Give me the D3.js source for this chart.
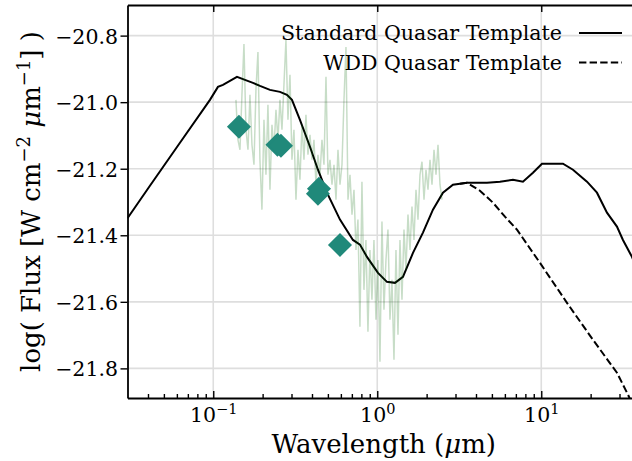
<!DOCTYPE html>
<html>
<head>
<meta charset="utf-8">
<script src="https://cdn.jsdelivr.net/npm/d3@7"></script>
<style>
  body { margin: 0; background: #fff; }
  text { font-family: "DejaVu Serif", serif; fill: #000; }
</style>
</head>
<body>
<svg id="chart"></svg>
<script>
// observed spectrum (wavelength in micron, log flux)
const specWave = [0.1375,0.1414,0.1455,0.1496,0.1539,0.1583,0.1628,0.1674,0.1722,0.1771,
  0.1821,0.1873,0.1926,0.1981,0.2038,0.2096,0.2155,0.2217,0.2280,0.2345,
  0.2412,0.2480,0.2551,0.2624,0.2698,0.2775,0.2854,0.2936,0.3019,0.3105,
  0.3194,0.3285,0.3378,0.3475,0.3574,0.3675,0.3780,0.3888,0.3999,0.4113,
  0.4230,0.4350,0.4474,0.4602,0.4733,0.4868,0.5006,0.5149,0.5296,0.5447,
  0.5602,0.5761,0.5925,0.6094,0.6268,0.6446,0.6630,0.6819,0.7013,0.7213,
  0.7418,0.7625,0.7842,0.8066,0.8296,0.8532,0.8775,0.9025,0.9282,0.9547,
  0.9819,1.0099,1.0387,1.0683,1.0987,1.1300,1.1622,1.1953,1.2294,1.2644,
  1.3005,1.3376,1.3757,1.4149,1.4552,1.4967,1.5394,1.5833,1.6284,1.6748,
  1.7225,1.7716,1.8221,1.8740,1.9274,1.9823,2.0388,2.0969,2.1567,2.2182,
  2.2814,2.3464,2.4133,2.4821];
const specFlux = [-20.993,-21.113,-21.143,-20.978,-20.825,-21.083,-21.143,-20.978,-21.128,-21.188,
  -20.963,-20.849,-21.173,-21.323,-21.053,-21.218,-21.008,-21.263,-21.068,-21.143,
  -21.023,-21.113,-20.993,-21.083,-20.948,-20.813,-21.053,-20.918,-21.173,-21.083,
  -21.293,-21.143,-21.233,-21.068,-21.173,-21.038,-21.158,-21.098,-21.173,-21.113,
  -21.248,-21.158,-21.218,-21.113,-21.188,-20.924,-21.218,-21.173,-21.248,-21.188,
  -21.293,-21.143,-21.248,-21.188,-20.993,-20.834,-21.293,-21.218,-21.338,-21.263,
  -21.444,-21.353,-21.675,-21.239,-21.564,-21.414,-21.690,-21.444,-21.594,-21.414,
  -21.654,-21.474,-21.780,-21.359,-21.624,-21.474,-21.383,-21.654,-21.534,-21.774,
  -21.444,-21.699,-21.414,-21.594,-21.383,-21.504,-21.338,-21.444,-21.314,-21.414,
  -21.263,-21.353,-21.218,-21.179,-21.293,-21.203,-21.263,-21.173,-21.248,-21.143,
  -21.218,-21.128,-21.248,-21.293];

// standard quasar template
const stdWave = [0.03, 0.04111, 0.06266, 0.09548, 0.1068, 0.1146, 0.1264, 0.1395, 0.1561, 0.1746,
  0.1927, 0.2217, 0.2551, 0.2814, 0.3019, 0.3378, 0.3888, 0.4349, 0.4935, 0.5925,
  0.7109, 0.7843, 0.8654, 1.0099, 1.1459, 1.2823, 1.4349, 1.651, 1.8995, 2.1857,
  2.5153, 2.8943, 3.1939, 3.5237, 4.6666, 5.601, 6.722, 7.733, 8.900, 10.10,
  13.56, 15.61, 19.00, 21.86, 25.16, 28.94, 31.49, 35.73, 39.99];
const stdFlux = [-21.349, -21.251, -21.122, -20.993, -20.954, -20.948, -20.936, -20.924, -20.933, -20.942,
  -20.951, -20.963, -20.969, -20.978, -20.993, -21.053, -21.134, -21.203, -21.272, -21.353,
  -21.414, -21.428, -21.465, -21.513, -21.540, -21.543, -21.525, -21.453, -21.392, -21.323,
  -21.272, -21.248, -21.245, -21.242, -21.242, -21.239, -21.233, -21.239, -21.212, -21.185,
  -21.185, -21.203, -21.239, -21.272, -21.332, -21.374, -21.414, -21.465, -21.519];

// WDD quasar template (where it departs from the standard one)
const wddWave = [3.1939, 3.5237, 4.228, 5.077, 6.006, 7.110, 9.820, 14.35, 20.66, 28.94, 33.79, 37.26];
const wddFlux = [-21.245, -21.242, -21.266, -21.302, -21.344, -21.383, -21.483, -21.603, -21.714, -21.813, -21.879, -21.924];

// photometry
const photWave = [0.1434, 0.2463, 0.2587, 0.4411, 0.4349, 0.5925];
const photFlux = [-21.074, -21.128, -21.131, -21.260, -21.275, -21.429];

const xTickValues = [0.1, 1, 10];
const xTickExponents = ['\u22121', '0', '1'];
const yTickValues = [-21.8, -21.6, -21.4, -21.2, -21.0, -20.8];
const legendLabels = ['Standard Quasar Template', 'WDD Quasar Template'];

class SedChart {

    constructor(_config) {
        this.config = {
            parentElement: _config.parentElement,
            containerWidth: 632,
            containerHeight: 461,
            margin: {top: 5, left: 127.5, right: -8, bottom: 63}
        };
        this.initVis();
    }

    initVis() {
        let vis = this;
        const m = vis.config.margin;
        vis.width = vis.config.containerWidth - m.left - m.right;
        vis.height = vis.config.containerHeight - m.top - m.bottom;

        vis.xScale = d3.scaleLog().domain([0.03, 40]).range([0, vis.width]);
        vis.yScale = d3.scaleLinear().domain([-21.889, -20.708]).range([vis.height, 0]);

        vis.svg = d3.select(vis.config.parentElement)
            .attr('width', vis.config.containerWidth)
            .attr('height', vis.config.containerHeight);

        vis.chart = vis.svg.append('g')
            .attr('transform', `translate(${m.left},${m.top})`);

        vis.chart.append('clipPath').attr('id', 'plot-clip')
            .append('rect').attr('width', vis.width).attr('height', vis.height);

        vis.renderVis();
    }

    renderVis() {
        let vis = this;
        const x = vis.xScale, y = vis.yScale;

        // grid
        const grid = vis.chart.append('g').attr('stroke', '#dedede').attr('stroke-width', 1.6);
        grid.selectAll('.gx').data(xTickValues).join('line')
            .attr('x1', d => x(d)).attr('x2', d => x(d))
            .attr('y1', 0).attr('y2', vis.height);
        grid.selectAll('.gy').data(yTickValues).join('line')
            .attr('x1', 0).attr('x2', vis.width)
            .attr('y1', d => y(d)).attr('y2', d => y(d));

        const plot = vis.chart.append('g').attr('clip-path', 'url(#plot-clip)');
        const line = d3.line().x(d => x(d[0])).y(d => y(d[1]));

        plot.append('path')
            .datum(d3.zip(stdWave, stdFlux))
            .attr('fill', 'none').attr('stroke', '#000').attr('stroke-width', 2)
            .attr('d', line);

        plot.append('path')
            .datum(d3.zip(wddWave, wddFlux))
            .attr('fill', 'none').attr('stroke', '#000').attr('stroke-width', 2)
            .attr('stroke-dasharray', '7.4,3.2')
            .attr('d', line);

        plot.append('path')
            .datum(d3.zip(specWave, specFlux))
            .attr('fill', 'none').attr('stroke', 'rgba(0,100,0,0.22)').attr('stroke-width', 1.5)
            .attr('d', line);

        plot.selectAll('.phot').data(d3.zip(photWave, photFlux)).join('path')
            .attr('class', 'phot')
            .attr('d', d3.symbol(d3.symbolSquare, 289))
            .attr('transform', d => `translate(${x(d[0])},${y(d[1])}) rotate(45)`)
            .attr('fill', '#20897a');

        // axes
        const minorTicks = [];
        [0.01, 0.1, 1, 10].forEach(dec => {
            for (let k = 2; k <= 9; k++) {
                const v = dec * k;
                if (v > 0.03 && v < 40) minorTicks.push(v);
            }
        });

        const minorAxis = d3.axisBottom(x).tickValues(minorTicks)
            .tickSizeInner(-4).tickSizeOuter(0).tickFormat('');
        const xAxis = d3.axisBottom(x).tickValues(xTickValues)
            .tickSizeInner(-7).tickSizeOuter(0).tickPadding(9).tickFormat('');
        const topAxis = d3.axisTop(x).tickValues(xTickValues)
            .tickSizeInner(-7).tickSizeOuter(0).tickFormat('');
        const yAxis = d3.axisLeft(y).tickValues(yTickValues)
            .tickSizeInner(7).tickSizeOuter(0).tickPadding(2.5)
            .tickFormat(d => d.toFixed(1).replace('-', '\u2212'));

        const gMinor = vis.chart.append('g').attr('transform', `translate(0,${vis.height})`).call(minorAxis);
        const gx = vis.chart.append('g').attr('transform', `translate(0,${vis.height})`).call(xAxis);
        const gTop = vis.chart.append('g').call(topAxis);
        const gy = vis.chart.append('g').call(yAxis);

        [gMinor, gx, gTop, gy].forEach(g => {
            g.selectAll('.tick line').attr('stroke', '#000').attr('stroke-width', 1.4);
            g.select('.domain').attr('stroke', '#000').attr('stroke-width', 1.8);
        });
        gMinor.select('.domain').remove();

        gy.selectAll('.tick text')
            .attr('font-family', '"DejaVu Serif", serif')
            .attr('font-size', 20.5)
            .attr('dy', '0.36em');

        gx.selectAll('.tick text')
            .attr('font-family', '"DejaVu Serif", serif')
            .attr('font-size', 20.5)
            .attr('dy', '0.71em')
            .each(function(d, i) {
                const t = d3.select(this);
                t.append('tspan').text('10');
                t.append('tspan').attr('font-size', 14.5).attr('dy', -8).text(xTickExponents[i]);
            });

        // axis labels
        vis.chart.append('text')
            .attr('x', vis.width / 2).attr('y', 448)
            .attr('text-anchor', 'middle').attr('font-size', 26)
            .call(t => {
                t.append('tspan').text('Wavelength (');
                t.append('tspan').attr('font-style', 'italic').text('\u03bc');
                t.append('tspan').text('m)');
            });

        vis.chart.append('text')
            .attr('transform', `translate(${40 - vis.config.margin.left},${vis.height / 2}) rotate(-90)`)
            .attr('text-anchor', 'middle').attr('font-size', 26)
            .call(t => {
                t.append('tspan').text('log( Flux [W cm');
                t.append('tspan').attr('font-size', 18).attr('dy', -10).text('\u22122');
                t.append('tspan').attr('dy', 10).text(' ');
                t.append('tspan').attr('font-style', 'italic').text('\u03bc');
                t.append('tspan').text('m');
                t.append('tspan').attr('font-size', 18).attr('dy', -10).text('\u22121');
                t.append('tspan').attr('dy', 10).text('] )');
            });

        // legend
        const legend = vis.svg.append('g');
        const rows = legend.selectAll('.row').data(legendLabels).join('g')
            .attr('transform', (d, i) => `translate(0,${33 + i * 29.5})`);
        rows.append('text')
            .attr('x', 562).attr('y', 7)
            .attr('text-anchor', 'end').attr('font-size', 20.6)
            .text(d => d);
        rows.append('line')
            .attr('x1', 579).attr('x2', 622).attr('y1', 0).attr('y2', 0)
            .attr('stroke', '#000').attr('stroke-width', 2)
            .attr('stroke-dasharray', (d, i) => i === 1 ? '7.4,3.2' : null);
    }
}

new SedChart({parentElement: '#chart'});
</script>
</body>
</html>
